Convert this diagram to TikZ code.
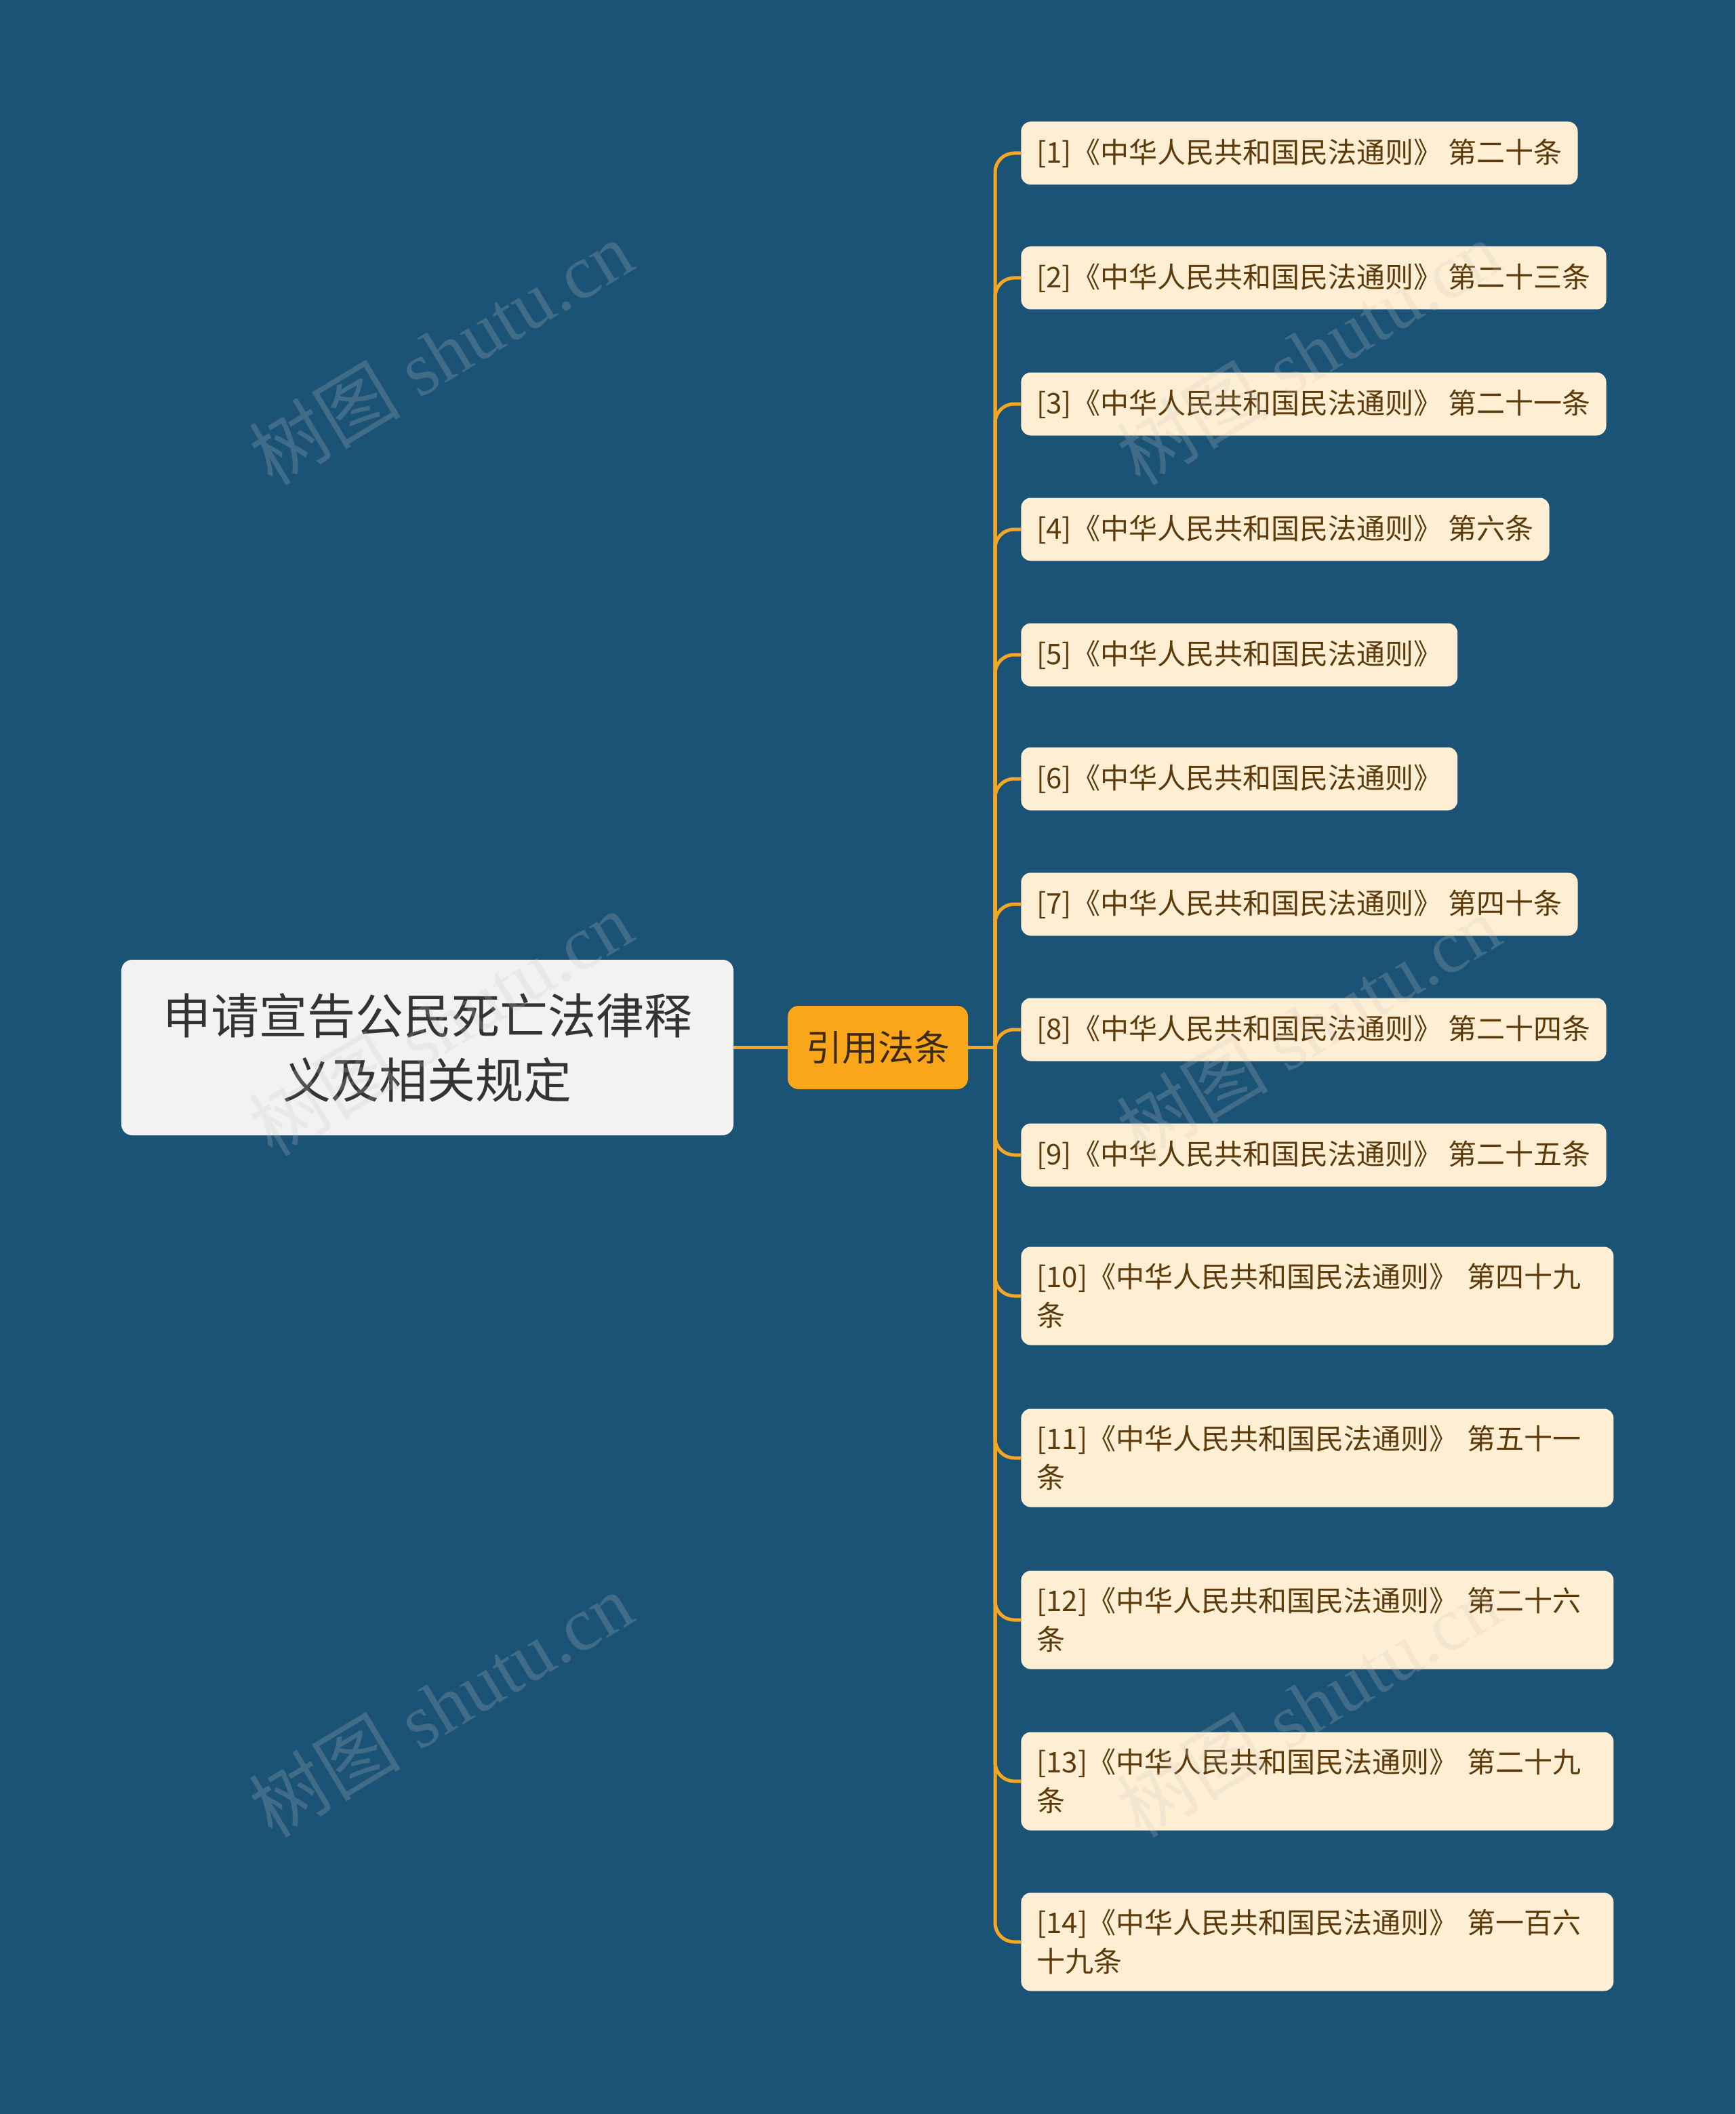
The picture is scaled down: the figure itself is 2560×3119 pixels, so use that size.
\documentclass[tikz,border=0pt]{standalone}
\usepackage{fontspec}
\setmainfont{Noto Sans CJK SC}
\newfontfamily\cjk{Noto Sans CJK SC}
\newfontfamily\wmfont{Liberation Serif}
\definecolor{bgcol}{RGB}{26,83,118}
\definecolor{rootfill}{RGB}{242,242,242}
\definecolor{roottext}{RGB}{51,51,51}
\definecolor{midfill}{RGB}{250,166,26}
\definecolor{midtext}{RGB}{59,42,18}
\definecolor{leaffill}{RGB}{254,239,212}
\definecolor{leaftext}{RGB}{92,58,10}
\definecolor{linecol}{RGB}{245,166,35}
\definecolor{wmcol}{RGB}{200,200,200}
\begin{document}
\begin{tikzpicture}[x=0.5pt,y=-0.5pt,
  leaf/.style={fill=leaffill, rounded corners=7pt, anchor=west, inner xsep=11.5pt, inner ysep=0pt,
    minimum height=46.5pt, font=\fontsize{21pt}{28.5pt}\selectfont, text=leaftext, align=left},
  leaftwo/.style={leaf, minimum height=72.5pt, text width=414pt},
  conn/.style={draw=linecol, line width=2.5pt, rounded corners=14pt},
  wm/.style={font=\wmfont\fontsize{56pt}{56pt}\selectfont, text=wmcol, opacity=0.22, rotate=31, inner sep=0pt},
]
\useasboundingbox (0,0) rectangle (2560,3119);
\fill[bgcol] (0,0) rectangle (2560,3119);

% root and middle
\node[fill=rootfill, rounded corners=8pt, minimum width=451.5pt, minimum height=129.5pt, inner sep=0pt,
  align=center, text=roottext, font=\fontsize{35.5pt}{47.5pt}\selectfont] (root) at (630.5,1545.5)
  {申请宣告公民死亡法律释\\义及相关规定};
\node[fill=midfill, rounded corners=8pt, minimum width=133pt, minimum height=61.5pt, inner sep=0pt,
  text=midtext, font=\fontsize{26.5pt}{30pt}\selectfont] (mid) at (1295,1545.5) {引用法条};

% leaves
\node[leaf] (l1) at (1506,226) {[1]《中华人民共和国民法通则》 第二十条};
\node[leaf] (l2) at (1506,410) {[2]《中华人民共和国民法通则》 第二十三条};
\node[leaf] (l3) at (1506,596) {[3]《中华人民共和国民法通则》 第二十一条};
\node[leaf] (l4) at (1506,781) {[4]《中华人民共和国民法通则》 第六条};
\node[leaf] (l5) at (1506,966) {[5]《中华人民共和国民法通则》};
\node[leaf] (l6) at (1506,1149) {[6]《中华人民共和国民法通则》};
\node[leaf] (l7) at (1506,1334) {[7]《中华人民共和国民法通则》 第四十条};
\node[leaf] (l8) at (1506,1519) {[8]《中华人民共和国民法通则》 第二十四条};
\node[leaf] (l9) at (1506,1704) {[9]《中华人民共和国民法通则》 第二十五条};
\node[leaftwo] (l10) at (1506,1912) {[10]《中华人民共和国民法通则》 第四十九\\条};
\node[leaftwo] (l11) at (1506,2151) {[11]《中华人民共和国民法通则》 第五十一\\条};
\node[leaftwo] (l12) at (1506,2390) {[12]《中华人民共和国民法通则》 第二十六\\条};
\node[leaftwo] (l13) at (1506,2628) {[13]《中华人民共和国民法通则》 第二十九\\条};
\node[leaftwo] (l14) at (1506,2865) {[14]《中华人民共和国民法通则》 第一百六\\十九条};

% connectors
\coordinate (trunk) at (1468,1545.5);
\draw[conn] (root.east) -- (mid.west);
\draw[conn] (mid.east) -- (trunk);
\foreach \i in {1,...,14} {
  \draw[conn] (trunk) |- (l\i.west);
}

% watermarks
\node[wm] (wm1) at (650,520) {{\cjk 树图} shutu.cn};
\node[wm] (wm2) at (1930,520) {{\cjk 树图} shutu.cn};
\node[wm] (wm3) at (650,1510) {{\cjk 树图} shutu.cn};
\node[wm] (wm4) at (1930,1515) {{\cjk 树图} shutu.cn};
\node[wm] (wm5) at (650,2515) {{\cjk 树图} shutu.cn};
\node[wm] (wm6) at (1930,2515) {{\cjk 树图} shutu.cn};
\end{tikzpicture}
\end{document}
